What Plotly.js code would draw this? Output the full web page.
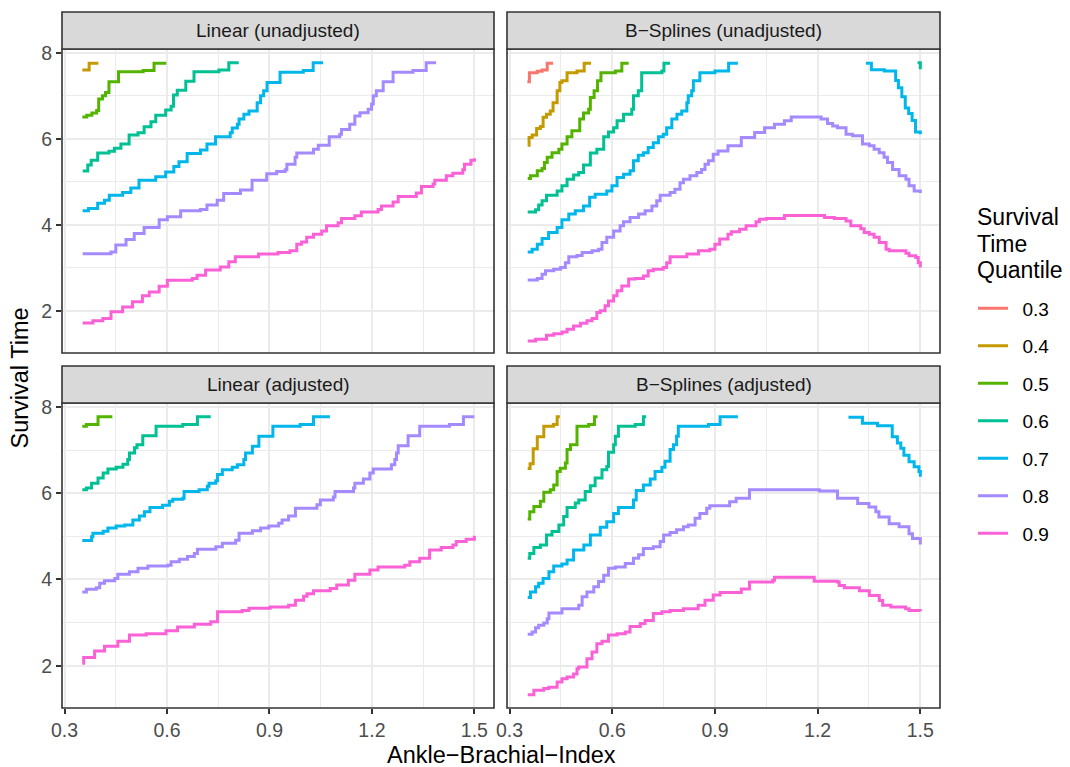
<!DOCTYPE html>
<html>
<head>
<meta charset="utf-8">
<script src="https://cdn.plot.ly/plotly-3.0.1.min.js"></script>
<style>
  html, body { margin: 0; padding: 0; background: #ffffff; }
  #chart { width: 1070px; height: 767px; }
</style>
</head>
<body>
<div id="chart"></div>
<script>
// Survival-time quantile curves by ankle-brachial index, four model variants.
const quantiles = ['0.3', '0.4', '0.5', '0.6', '0.7', '0.8', '0.9'];
const quantileColors = ['#F8766D', '#C49A00', '#53B400', '#00C094', '#00B6EB', '#A58AFF', '#FB61D7'];
const panelTitles = ['Linear (unadjusted)', 'B\u2212Splines (unadjusted)', 'Linear (adjusted)', 'B\u2212Splines (adjusted)'];
const xTitle = 'Ankle\u2212Brachial\u2212Index';
const yTitle = 'Survival Time';
const legendTitleLines = ['Survival', 'Time', 'Quantile'];

// [abi, survival time] step points; null starts a new segment
// Linear (unadjusted)
const linUnadj_q4 = [[0.352,7.60],[0.372,7.76],[0.399,7.76]];
const linUnadj_q5 = [[0.352,6.51],[0.365,6.55],[0.380,6.60],[0.394,6.66],[0.400,6.93],[0.411,7.00],[0.420,7.08],[0.430,7.33],[0.458,7.56],[0.530,7.59],[0.562,7.76],[0.598,7.76]];
const linUnadj_q6 = [[0.353,5.25],[0.368,5.39],[0.378,5.50],[0.397,5.67],[0.430,5.71],[0.446,5.78],[0.465,5.88],[0.489,6.09],[0.515,6.14],[0.533,6.28],[0.553,6.40],[0.567,6.55],[0.596,6.67],[0.612,6.76],[0.619,7.02],[0.630,7.13],[0.655,7.34],[0.679,7.56],[0.752,7.60],[0.781,7.77],[0.810,7.77]];
const linUnadj_q7 = [[0.353,4.33],[0.370,4.38],[0.397,4.50],[0.417,4.57],[0.431,4.69],[0.470,4.75],[0.494,4.86],[0.518,5.04],[0.567,5.12],[0.596,5.23],[0.620,5.36],[0.635,5.47],[0.659,5.66],[0.698,5.74],[0.717,5.88],[0.742,6.05],[0.785,6.14],[0.791,6.25],[0.806,6.34],[0.811,6.46],[0.825,6.57],[0.840,6.65],[0.864,6.84],[0.874,7.00],[0.883,7.12],[0.893,7.31],[0.931,7.55],[0.999,7.59],[1.028,7.77],[1.057,7.77]];
const linUnadj_q8 = [[0.353,3.33],[0.436,3.37],[0.450,3.53],[0.480,3.66],[0.504,3.80],[0.533,3.94],[0.577,4.12],[0.601,4.19],[0.640,4.33],[0.698,4.36],[0.717,4.46],[0.747,4.57],[0.766,4.73],[0.815,4.81],[0.849,5.04],[0.892,5.19],[0.921,5.24],[0.946,5.28],[0.951,5.41],[0.975,5.57],[0.980,5.67],[1.029,5.76],[1.043,5.85],[1.075,6.05],[1.106,6.11],[1.111,6.22],[1.135,6.34],[1.150,6.53],[1.165,6.61],[1.189,6.69],[1.199,6.81],[1.204,7.00],[1.213,7.12],[1.233,7.33],[1.262,7.55],[1.320,7.59],[1.359,7.77],[1.388,7.77]];
const linUnadj_q9 = [[0.353,1.72],[0.383,1.77],[0.412,1.82],[0.436,1.98],[0.470,2.09],[0.499,2.21],[0.528,2.35],[0.548,2.44],[0.577,2.57],[0.601,2.71],[0.674,2.75],[0.688,2.83],[0.713,2.95],[0.756,3.02],[0.781,3.14],[0.800,3.26],[0.868,3.32],[0.925,3.36],[0.960,3.40],[0.980,3.55],[0.994,3.60],[1.009,3.71],[1.029,3.78],[1.053,3.86],[1.067,3.98],[1.101,4.05],[1.111,4.15],[1.150,4.21],[1.169,4.30],[1.218,4.36],[1.228,4.44],[1.262,4.53],[1.277,4.66],[1.330,4.74],[1.345,4.89],[1.379,4.95],[1.384,5.04],[1.418,5.14],[1.437,5.20],[1.466,5.28],[1.471,5.41],[1.490,5.50],[1.500,5.55]];

// B-Splines (unadjusted)
const bspUnadj_q3 = [[0.352,7.33],[0.358,7.54],[0.381,7.57],[0.395,7.60],[0.410,7.76],[0.427,7.76]];
const bspUnadj_q4 = [[0.353,5.85],[0.357,6.03],[0.366,6.09],[0.379,6.24],[0.390,6.29],[0.398,6.50],[0.408,6.57],[0.419,6.65],[0.427,6.84],[0.439,7.12],[0.447,7.31],[0.453,7.35],[0.468,7.54],[0.497,7.58],[0.518,7.76],[0.538,7.76]];
const bspUnadj_q5 = [[0.353,5.08],[0.361,5.14],[0.381,5.26],[0.395,5.31],[0.402,5.45],[0.410,5.57],[0.424,5.68],[0.444,5.76],[0.453,5.88],[0.468,6.05],[0.482,6.19],[0.505,6.46],[0.516,6.60],[0.531,6.69],[0.536,6.96],[0.547,7.12],[0.557,7.35],[0.567,7.54],[0.609,7.58],[0.628,7.76],[0.648,7.76]];
const bspUnadj_q6 = [[0.353,4.30],[0.376,4.35],[0.385,4.46],[0.395,4.56],[0.408,4.69],[0.439,4.79],[0.453,4.91],[0.468,5.06],[0.487,5.16],[0.502,5.22],[0.516,5.39],[0.536,5.67],[0.555,5.76],[0.575,6.05],[0.589,6.16],[0.604,6.26],[0.614,6.42],[0.633,6.57],[0.657,6.69],[0.662,7.00],[0.676,7.12],[0.686,7.54],[0.745,7.58],[0.751,7.76],[0.769,7.76],null,[1.492,7.77],[1.500,7.62]];
const bspUnadj_q7 = [[0.353,3.37],[0.366,3.43],[0.381,3.55],[0.395,3.68],[0.414,3.82],[0.439,3.94],[0.453,4.12],[0.473,4.25],[0.492,4.33],[0.516,4.44],[0.534,4.64],[0.550,4.71],[0.584,4.79],[0.599,4.91],[0.614,5.10],[0.633,5.18],[0.652,5.26],[0.662,5.49],[0.676,5.62],[0.691,5.68],[0.705,5.80],[0.720,5.91],[0.735,6.05],[0.749,6.11],[0.759,6.26],[0.774,6.46],[0.789,6.57],[0.803,6.65],[0.818,6.84],[0.822,7.00],[0.832,7.12],[0.837,7.35],[0.856,7.54],[0.900,7.58],[0.940,7.76],[0.967,7.76],null,[1.341,7.76],[1.357,7.61],[1.395,7.58],[1.428,7.36],[1.436,7.19],[1.446,6.98],[1.456,6.72],[1.466,6.59],[1.476,6.43],[1.486,6.16],[1.500,6.11]];
const bspUnadj_q8 = [[0.353,2.72],[0.381,2.75],[0.395,2.85],[0.405,2.93],[0.429,2.97],[0.449,3.01],[0.463,3.12],[0.473,3.26],[0.497,3.29],[0.512,3.36],[0.541,3.40],[0.560,3.43],[0.570,3.59],[0.584,3.71],[0.604,3.86],[0.623,3.98],[0.633,4.07],[0.652,4.17],[0.677,4.25],[0.696,4.33],[0.716,4.44],[0.730,4.56],[0.740,4.69],[0.769,4.75],[0.783,4.83],[0.798,4.98],[0.808,5.06],[0.827,5.14],[0.847,5.22],[0.861,5.29],[0.871,5.41],[0.881,5.49],[0.895,5.64],[0.909,5.72],[0.938,5.84],[0.977,6.03],[1.016,6.15],[1.045,6.26],[1.074,6.34],[1.103,6.42],[1.123,6.51],[1.210,6.46],[1.229,6.36],[1.244,6.30],[1.258,6.26],[1.283,6.11],[1.302,6.07],[1.331,5.88],[1.351,5.84],[1.365,5.76],[1.380,5.68],[1.394,5.57],[1.404,5.45],[1.419,5.29],[1.438,5.14],[1.458,5.06],[1.467,4.91],[1.482,4.79],[1.500,4.74]];
const bspUnadj_q9 = [[0.353,1.30],[0.376,1.34],[0.408,1.43],[0.429,1.47],[0.453,1.51],[0.468,1.57],[0.487,1.65],[0.507,1.71],[0.526,1.77],[0.541,1.82],[0.555,1.96],[0.565,2.00],[0.579,2.12],[0.589,2.23],[0.604,2.35],[0.614,2.47],[0.628,2.58],[0.648,2.74],[0.667,2.75],[0.691,2.81],[0.705,2.93],[0.720,2.97],[0.749,3.01],[0.759,3.12],[0.769,3.26],[0.818,3.32],[0.852,3.40],[0.885,3.43],[0.900,3.55],[0.914,3.67],[0.938,3.78],[0.948,3.84],[0.972,3.90],[0.991,3.98],[1.020,4.07],[1.030,4.13],[1.050,4.15],[1.103,4.22],[1.220,4.17],[1.249,4.15],[1.283,4.09],[1.297,3.98],[1.326,3.91],[1.336,3.82],[1.351,3.78],[1.365,3.71],[1.380,3.59],[1.400,3.43],[1.409,3.40],[1.458,3.34],[1.467,3.28],[1.487,3.24],[1.494,3.12],[1.500,3.01]];

// Linear (adjusted)
const linAdj_q5 = [[0.352,7.55],[0.364,7.59],[0.398,7.77],[0.440,7.77]];
const linAdj_q6 = [[0.352,6.08],[0.364,6.12],[0.379,6.23],[0.398,6.35],[0.413,6.47],[0.427,6.56],[0.451,6.60],[0.471,6.67],[0.485,6.78],[0.490,6.93],[0.505,7.05],[0.512,7.12],[0.529,7.33],[0.568,7.55],[0.646,7.59],[0.689,7.77],[0.728,7.77]];
const linAdj_q7 = [[0.352,4.90],[0.379,4.99],[0.383,5.07],[0.413,5.12],[0.427,5.19],[0.451,5.24],[0.476,5.26],[0.500,5.38],[0.519,5.47],[0.534,5.57],[0.550,5.67],[0.587,5.72],[0.607,5.81],[0.617,5.86],[0.646,5.88],[0.650,6.04],[0.694,6.08],[0.718,6.16],[0.723,6.23],[0.743,6.29],[0.748,6.43],[0.762,6.54],[0.791,6.60],[0.806,6.66],[0.825,6.78],[0.830,6.93],[0.850,7.09],[0.869,7.32],[0.910,7.55],[0.990,7.59],[1.029,7.77],[1.077,7.77]];
const linAdj_q8 = [[0.352,3.71],[0.364,3.77],[0.393,3.81],[0.403,3.91],[0.417,3.97],[0.447,4.02],[0.456,4.12],[0.490,4.18],[0.515,4.26],[0.544,4.31],[0.602,4.33],[0.612,4.41],[0.636,4.47],[0.660,4.53],[0.680,4.60],[0.689,4.70],[0.743,4.76],[0.762,4.84],[0.801,4.91],[0.811,5.07],[0.850,5.13],[0.874,5.19],[0.898,5.24],[0.927,5.30],[0.937,5.38],[0.956,5.47],[0.976,5.65],[1.039,5.73],[1.049,5.84],[1.087,5.91],[1.092,6.04],[1.146,6.12],[1.150,6.23],[1.175,6.33],[1.194,6.47],[1.204,6.56],[1.257,6.66],[1.267,6.78],[1.272,6.93],[1.277,7.10],[1.306,7.33],[1.340,7.55],[1.427,7.59],[1.468,7.77],[1.500,7.77]];
const linAdj_q9 = [[0.352,2.06],[0.356,2.19],[0.388,2.34],[0.417,2.45],[0.456,2.57],[0.490,2.71],[0.539,2.74],[0.597,2.81],[0.631,2.90],[0.680,2.96],[0.728,3.02],[0.748,3.25],[0.820,3.28],[0.840,3.33],[0.902,3.36],[0.956,3.40],[0.976,3.52],[1.000,3.61],[1.010,3.67],[1.029,3.74],[1.078,3.79],[1.097,3.87],[1.131,3.98],[1.150,4.12],[1.194,4.22],[1.218,4.29],[1.296,4.33],[1.311,4.41],[1.340,4.49],[1.369,4.68],[1.403,4.74],[1.437,4.80],[1.447,4.88],[1.476,4.93],[1.500,5.01]];

// B-Splines (adjusted)
const bspAdj_q4 = [[0.353,6.57],[0.360,6.68],[0.369,7.03],[0.381,7.31],[0.400,7.55],[0.428,7.59],[0.439,7.77],[0.447,7.77]];
const bspAdj_q5 = [[0.353,5.40],[0.359,5.57],[0.371,5.69],[0.390,5.81],[0.400,6.02],[0.419,6.08],[0.429,6.19],[0.439,6.50],[0.448,6.58],[0.463,6.70],[0.468,7.01],[0.478,7.12],[0.497,7.55],[0.531,7.59],[0.548,7.77],[0.557,7.77]];
const bspAdj_q6 = [[0.353,4.49],[0.359,4.60],[0.371,4.74],[0.390,4.80],[0.408,5.03],[0.424,5.11],[0.444,5.26],[0.458,5.46],[0.468,5.67],[0.492,5.77],[0.502,5.84],[0.521,6.04],[0.536,6.17],[0.550,6.35],[0.570,6.54],[0.584,6.62],[0.589,6.95],[0.604,7.12],[0.609,7.32],[0.618,7.55],[0.667,7.59],[0.691,7.77],[0.699,7.77]];
const bspAdj_q7 = [[0.353,3.58],[0.361,3.71],[0.376,3.83],[0.385,3.91],[0.398,4.02],[0.415,4.18],[0.429,4.31],[0.453,4.36],[0.468,4.45],[0.487,4.68],[0.517,4.80],[0.536,5.03],[0.565,5.21],[0.584,5.34],[0.604,5.53],[0.618,5.67],[0.662,5.84],[0.670,6.06],[0.691,6.19],[0.711,6.33],[0.725,6.50],[0.745,6.60],[0.754,6.74],[0.769,7.01],[0.779,7.12],[0.788,7.32],[0.793,7.55],[0.881,7.59],[0.915,7.77],[0.967,7.77],null,[1.290,7.76],[1.331,7.62],[1.375,7.56],[1.418,7.31],[1.433,7.16],[1.443,7.04],[1.452,6.88],[1.467,6.73],[1.482,6.61],[1.496,6.50],[1.500,6.38]];
const bspAdj_q8 = [[0.353,2.73],[0.366,2.78],[0.376,2.88],[0.385,2.94],[0.400,2.99],[0.410,3.09],[0.415,3.22],[0.453,3.32],[0.502,3.40],[0.512,3.60],[0.526,3.71],[0.546,3.83],[0.560,3.95],[0.575,4.10],[0.589,4.26],[0.609,4.29],[0.638,4.37],[0.662,4.49],[0.677,4.57],[0.691,4.72],[0.720,4.76],[0.740,4.88],[0.750,5.03],[0.769,5.09],[0.788,5.15],[0.808,5.22],[0.822,5.26],[0.842,5.42],[0.856,5.53],[0.876,5.65],[0.885,5.71],[0.943,5.80],[0.962,5.88],[1.001,6.08],[1.205,6.05],[1.258,5.88],[1.317,5.76],[1.350,5.68],[1.370,5.57],[1.379,5.45],[1.409,5.29],[1.438,5.22],[1.467,5.06],[1.477,4.95],[1.500,4.81]];
const bspAdj_q9 = [[0.353,1.33],[0.371,1.43],[0.400,1.47],[0.415,1.50],[0.439,1.62],[0.453,1.70],[0.468,1.74],[0.487,1.81],[0.497,1.93],[0.502,1.97],[0.526,2.16],[0.541,2.32],[0.555,2.51],[0.570,2.57],[0.589,2.71],[0.614,2.74],[0.638,2.78],[0.652,2.91],[0.682,2.98],[0.696,3.05],[0.720,3.21],[0.745,3.25],[0.769,3.28],[0.808,3.32],[0.851,3.40],[0.871,3.52],[0.895,3.64],[0.915,3.70],[0.977,3.78],[1.001,3.94],[1.069,3.98],[1.074,4.05],[1.190,3.96],[1.258,3.94],[1.263,3.86],[1.278,3.81],[1.322,3.74],[1.351,3.63],[1.380,3.51],[1.390,3.40],[1.414,3.36],[1.457,3.32],[1.467,3.28],[1.500,3.26]];

// Panel layout: which axes each facet uses and which curves it holds
const panels = [
  { title: panelTitles[0], xa: 'x',  ya: 'y',  curves: { '0.4': linUnadj_q4, '0.5': linUnadj_q5, '0.6': linUnadj_q6, '0.7': linUnadj_q7, '0.8': linUnadj_q8, '0.9': linUnadj_q9 } },
  { title: panelTitles[1], xa: 'x2', ya: 'y2', curves: { '0.3': bspUnadj_q3, '0.4': bspUnadj_q4, '0.5': bspUnadj_q5, '0.6': bspUnadj_q6, '0.7': bspUnadj_q7, '0.8': bspUnadj_q8, '0.9': bspUnadj_q9 } },
  { title: panelTitles[2], xa: 'x3', ya: 'y3', curves: { '0.5': linAdj_q5, '0.6': linAdj_q6, '0.7': linAdj_q7, '0.8': linAdj_q8, '0.9': linAdj_q9 } },
  { title: panelTitles[3], xa: 'x4', ya: 'y4', curves: { '0.4': bspAdj_q4, '0.5': bspAdj_q5, '0.6': bspAdj_q6, '0.7': bspAdj_q7, '0.8': bspAdj_q8, '0.9': bspAdj_q9 } }
];

const traces = [];
quantiles.forEach((q, qi) => {
  let first = true;
  panels.forEach(p => {
    const pts = p.curves[q];
    if (!pts) return;
    traces.push({
      type: 'scatter', mode: 'lines',
      x: pts.map(d => d ? d[0] : null),
      y: pts.map(d => d ? d[1] : null),
      xaxis: p.xa, yaxis: p.ya,
      // en space widens the gap between key line and label
      name: '\u2002' + q, legendgroup: q, showlegend: first,
      connectgaps: false,
      line: { shape: 'hv', color: quantileColors[qi], width: 3 },
      hoverinfo: 'skip'
    });
    first = false;
  });
});

// Pixel geometry of the facet grid on a 1070 x 767 canvas
const W = 1070, H = 767;
const colX = [[62, 494], [507, 940]];
const rowY = [[49, 353], [403, 708]];
const stripH = 37;
const fx = px => px / W;
const fy = py => 1 - py / H;
const FONT = 'Liberation Sans, Arial, sans-serif';

const gridCol = '#EBEBEB';
const xBase = {
  range: [0.2925, 1.5575], tick0: 0.3, dtick: 0.3, tickformat: '.1f',
  showgrid: true, gridcolor: gridCol, gridwidth: 2,
  minor: { dtick: 0.15, tick0: 0.3, showgrid: true, gridcolor: gridCol, gridwidth: 1 },
  zeroline: false, showline: false, fixedrange: true,
  tickfont: { family: FONT, size: 19.5, color: '#4D4D4D' },
  tickcolor: '#333333', tickwidth: 2, ticklen: 5
};
const yBase = {
  range: [1.02, 8.09], tick0: 2, dtick: 2,
  showgrid: true, gridcolor: gridCol, gridwidth: 2,
  minor: { dtick: 1, tick0: 1, showgrid: true, gridcolor: gridCol, gridwidth: 1 },
  zeroline: false, showline: false, fixedrange: true,
  tickfont: { family: FONT, size: 19.5, color: '#4D4D4D' },
  tickcolor: '#333333', tickwidth: 2, ticklen: 5
};

function xAxis(col, anchor, bottom) {
  return Object.assign({}, xBase, {
    domain: [fx(colX[col][0]), fx(colX[col][1])], anchor: anchor,
    showticklabels: bottom, ticks: bottom ? 'outside' : ''
  });
}
function yAxis(row, anchor, left) {
  return Object.assign({}, yBase, {
    domain: [fy(rowY[row][1]), fy(rowY[row][0])], anchor: anchor,
    showticklabels: left, ticks: left ? 'outside' : ''
  });
}

const shapes = [];
const annotations = [];
const cells = [[0, 0], [1, 0], [0, 1], [1, 1]];
cells.forEach(([c, r], i) => {
  const x0 = fx(colX[c][0]), x1 = fx(colX[c][1]);
  // panel border
  shapes.push({ type: 'rect', xref: 'paper', yref: 'paper', x0: x0, x1: x1,
    y0: fy(rowY[r][1]), y1: fy(rowY[r][0]), line: { color: '#333333', width: 1.6 }, layer: 'above' });
  // facet strip
  shapes.push({ type: 'rect', xref: 'paper', yref: 'paper', x0: x0, x1: x1,
    y0: fy(rowY[r][0]), y1: fy(rowY[r][0] - stripH), fillcolor: '#D9D9D9',
    line: { color: '#333333', width: 1.6 }, layer: 'above' });
  annotations.push({ xref: 'paper', yref: 'paper', x: (x0 + x1) / 2, y: fy(rowY[r][0] - stripH / 2),
    text: panels[i].title, showarrow: false, xanchor: 'center', yanchor: 'middle',
    font: { family: FONT, size: 19, color: '#1A1A1A' } });
});

annotations.push({ xref: 'paper', yref: 'paper', x: fx((colX[0][0] + colX[1][1]) / 2), y: fy(755),
  text: xTitle, showarrow: false, xanchor: 'center', yanchor: 'middle',
  font: { family: FONT, size: 23.5, color: '#000000' } });
annotations.push({ xref: 'paper', yref: 'paper', x: fx(19), y: fy((rowY[0][0] + rowY[1][1]) / 2),
  text: yTitle, showarrow: false, textangle: -90, xanchor: 'center', yanchor: 'middle',
  font: { family: FONT, size: 23.5, color: '#000000' } });

// legend heading, one line per row
const legendTitleY = [217, 243.5, 270];
legendTitleLines.forEach((t, i) => {
  annotations.push({ xref: 'paper', yref: 'paper', x: fx(975), y: fy(legendTitleY[i]),
    text: t, showarrow: false, xanchor: 'left', yanchor: 'middle',
    font: { family: FONT, size: 23, color: '#000000' } });
});

const layout = {
  width: W, height: H,
  margin: { l: 0, r: 0, t: 0, b: 0, pad: 0 },
  paper_bgcolor: '#ffffff', plot_bgcolor: '#ffffff',
  font: { family: FONT, color: '#000000' },
  xaxis:  xAxis(0, 'y',  false),
  xaxis2: xAxis(1, 'y2', false),
  xaxis3: xAxis(0, 'y3', true),
  xaxis4: xAxis(1, 'y4', true),
  yaxis:  yAxis(0, 'x',  true),
  yaxis2: yAxis(0, 'x2', false),
  yaxis3: yAxis(1, 'x3', true),
  yaxis4: yAxis(1, 'x4', false),
  shapes: shapes,
  annotations: annotations,
  showlegend: true,
  legend: {
    x: fx(973), xanchor: 'left', y: fy(289.5), yanchor: 'top',
    traceorder: 'grouped', tracegroupgap: 9.8,
    bgcolor: 'rgba(0,0,0,0)', borderwidth: 0,
    font: { family: FONT, size: 19, color: '#000000' },
    itemwidth: 30
  }
};

Plotly.newPlot('chart', traces, layout, { staticPlot: true, displayModeBar: false });
</script>
</body>
</html>
